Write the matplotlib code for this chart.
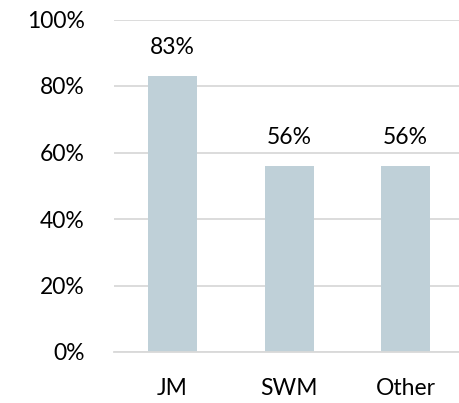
import matplotlib
matplotlib.use('Agg')
import matplotlib.pyplot as plt
from matplotlib.ticker import PercentFormatter

categories = ['JM', 'SWM', 'Other']
values = [83, 56, 56]
yticks = [0, 20, 40, 60, 80, 100]

plt.rcParams['font.family'] = ['Lato', 'DejaVu Sans']

fig = plt.figure(figsize=(4.59, 4.03), dpi=100)
ax = fig.add_axes([114 / 459, 1 - 352 / 403, 350 / 459, 332.5 / 403])

x = range(len(categories))
bars = ax.bar(x, values, width=0.42, color='#BFD0D8', zorder=2)
for b, v in zip(bars, values):
    ax.text(b.get_x() + b.get_width() / 2, v + 5.5, f'{v}%',
            ha='center', va='bottom', fontsize=16.5, color='#000000')

ax.set_xlim(-0.5, 2.5)
ax.set_ylim(0, 100)
ax.set_yticks(yticks)
ax.yaxis.set_major_formatter(PercentFormatter(decimals=0))
ax.set_xticks(list(x))
ax.set_xticklabels(categories)
ax.tick_params(axis='both', length=0, labelsize=16.5, colors='#000000')
ax.tick_params(axis='y', pad=21)
ax.tick_params(axis='x', pad=19)
ax.grid(axis='y', color='#D9D9D9', lw=1.3, zorder=0)
for s in ['top', 'right', 'left']:
    ax.spines[s].set_visible(False)
ax.spines['bottom'].set_color('#D9D9D9')
ax.spines['bottom'].set_linewidth(1.3)

fig.savefig('out.png', dpi=100)
